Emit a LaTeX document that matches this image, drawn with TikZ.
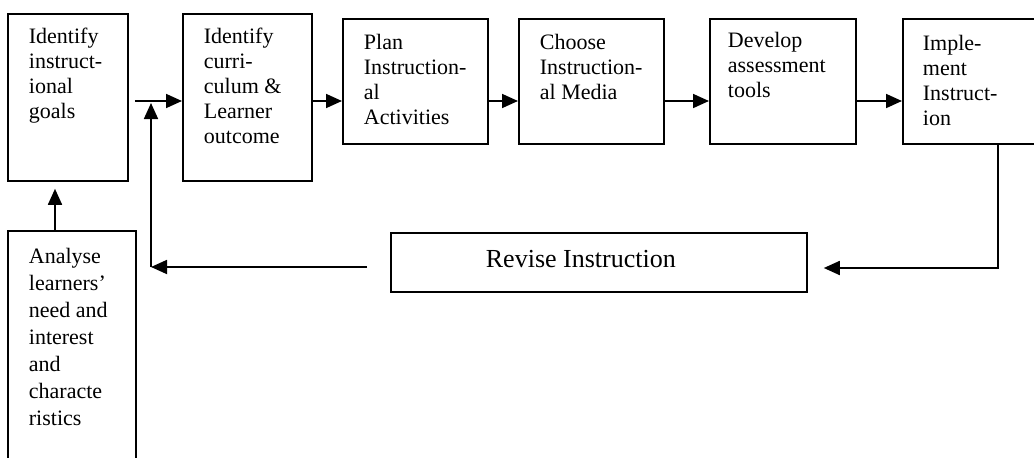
\documentclass[tikz,border=0pt]{standalone}
\usepackage{fontspec}
\setmainfont{Liberation Serif}
\usetikzlibrary{arrows.meta,calc}
\newcommand{\boxtxt}[5]{\parbox[c][#2][t]{#1}{\raggedright\leftskip=#3\relax\parindent=0pt\rule{0pt}{#4}#5}}
\tikzset{
  stepbox/.style={draw, line width=1.8pt, rectangle, inner sep=0pt, anchor=north west},
  flow/.style={line width=1.8pt, -{Triangle[length=16pt,width=14pt]}},
  plain/.style={line width=1.8pt},
}
\begin{document}
\begin{tikzpicture}[x=1pt,y=-1pt]
\useasboundingbox (0,0) rectangle (1034,458);
\fontsize{22}{25}\selectfont
% boxes
\node[stepbox] (b1) at (7,13) {\boxtxt{120pt}{167pt}{21pt}{30pt}{Identify\\instruct-\\ional\\goals}};
\node[stepbox] (b2) at (182,13) {\boxtxt{129pt}{167pt}{21pt}{30pt}{Identify\\curri-\\culum \&\\Learner\\outcome}};
\node[stepbox] (b3) at (342,18) {\boxtxt{145pt}{125pt}{21pt}{31pt}{Plan\\Instruction-\\al\\Activities}};
\node[stepbox] (b4) at (518,18) {\boxtxt{145pt}{125pt}{21pt}{31pt}{Choose\\Instruction-\\al Media}};
\node[stepbox] (b5) at (709,18) {\boxtxt{146pt}{125pt}{18pt}{29pt}{Develop\\assessment\\tools}};
\node[stepbox] (b6) at (902,18) {\boxtxt{140pt}{125pt}{20pt}{32pt}{Imple-\\ment\\Instruct-\\ion}};
\node[stepbox] (rev) at (390,232) {\fontsize{26}{30}\selectfont\boxtxt{416pt}{59pt}{95pt}{35pt}{Revise Instruction}};
\node[stepbox] (an) at (7,230) {\fontsize{22}{27}\selectfont\boxtxt{128pt}{240pt}{21pt}{33pt}{Analyse\\learners{\char"0027}\\need and\\interest\\and\\characte\\ristics}};
% helper coordinates
\coordinate (j) at (151,101);
\coordinate (fb) at (151,267);
\coordinate (a1) at (55,0);
\coordinate (k) at (998,268);
% forward chain
\draw[plain] ([xshift=6pt]b1.east |- j) -- (j);
\draw[flow] (j) -- (b2.west |- j);
\draw[flow] (b2.east |- j) -- (b3.west |- j);
\draw[flow] (b3.east |- j) -- (b4.west |- j);
\draw[flow] (b4.east |- j) -- (b5.west |- j);
\draw[flow] (b5.east |- j) -- (b6.west |- j);
% analyse to goals
\draw[flow] (an.north -| a1) -- ([yshift=-7pt]b1.south -| a1);
% implement to revise
\draw[flow] (b6.south -| k) |- ([xshift=16pt]rev.east |- k);
% revise back to loop
\draw[flow] ([xshift=-23pt]rev.west |- fb) -- (fb);
\draw[flow] (fb) -- ([yshift=-2pt]j);
\end{tikzpicture}
\end{document}
